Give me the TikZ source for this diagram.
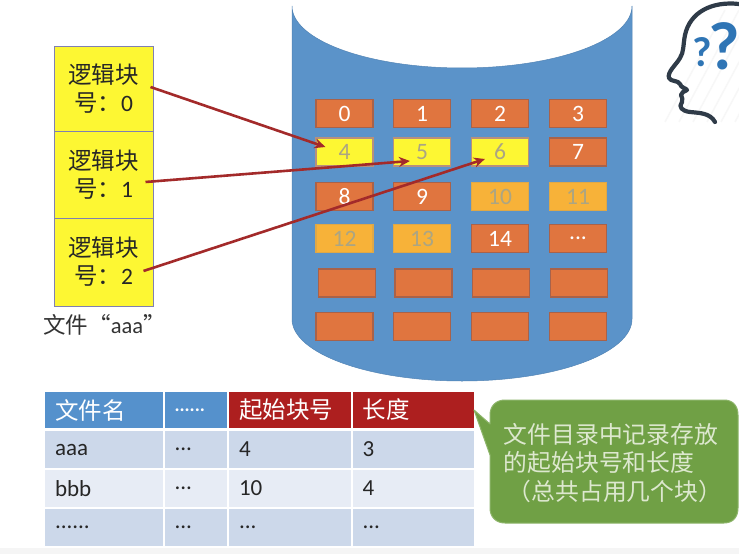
\documentclass[tikz,border=0pt]{standalone}
\usepackage{fontspec}
\setmainfont{Carlito}
\newfontfamily\cjk{Noto Sans CJK SC}
\usetikzlibrary{arrows.meta}
\definecolor{cylblue}{HTML}{5B93C9}
\definecolor{blkorange}{HTML}{E0753F}
\definecolor{blkedge}{HTML}{A8624A}
\definecolor{blkyellow}{HTML}{FDF733}
\definecolor{blkgold}{HTML}{F7B239}
\definecolor{arrowred}{HTML}{A32A2A}
\definecolor{headblue}{HTML}{5591CC}
\definecolor{headred}{HTML}{AD1F1F}
\definecolor{rowa}{HTML}{CCD8EA}
\definecolor{rowb}{HTML}{E7ECF5}
\definecolor{calloutgreen}{HTML}{70A045}
\definecolor{calloutedge}{HTML}{8DB56A}
\definecolor{calloutfg}{HTML}{DDE8CF}
\definecolor{headink}{HTML}{2F3B48}
\definecolor{qblue}{HTML}{2F75B5}
\definecolor{fadetext}{HTML}{ABA583}
\newcommand{\fsz}[1]{\fontsize{#1}{#1}\selectfont}
\newcommand{\tdots}{.{}.{}.}
\tikzset{
  blk/.style={draw=blkedge,line width=1.2pt,minimum width=57pt,minimum height=28pt,inner sep=0pt,text=white,font=\fsz{23.5}},
  orangeblk/.style={blk,fill=blkorange},
  yellowblk/.style={blk,fill=blkyellow,text=fadetext,draw=blkorange!60!black!60},
  goldblk/.style={blk,fill=blkgold,text=fadetext,draw=blkgold!80!gray},
  logic/.style={draw=blue!25!gray!80,line width=1pt,fill=blkyellow,minimum width=99pt,inner sep=0pt,align=center,text=black!85,font=\cjk\fontsize{23.5}{28}\selectfont},
  link/.style={draw=arrowred,line width=2.6pt,-{Stealth[length=11pt,width=10pt]}},
  cell/.style={draw=none,inner xsep=10pt,inner ysep=0pt,align=left,text=black!85,font=\fsz{23}},
}
\newcommand{\tcell}[7]{%
  \pgfmathsetmacro{\cx}{(#2+#3)/2}\pgfmathsetmacro{\cy}{(#4+#5)/2}%
  \pgfmathsetmacro{\cw}{#3-#2}\pgfmathsetmacro{\ch}{#5-#4}\pgfmathsetmacro{\tw}{#3-#2-20}%
  \node[cell,fill=#6,minimum width=\cw pt,minimum height=\ch pt,text width=\tw pt] (#1) at (\cx,\cy) {#7};}
\begin{document}
\begin{tikzpicture}[x=1pt,y=-1pt]
\useasboundingbox (0,0) rectangle (739,554);
\fill[white] (0,0) rectangle (739,554);
\fill[black!4] (0,548) rectangle (739,554);
% cylinder
\fill[cylblue,draw=cylblue!90!black,line width=.5pt] (292,6) .. controls (292,40.2) and (368.1,68) .. (462,68)
  .. controls (555.9,68) and (632,40.2) .. (632,6) -- (632,319)
  .. controls (632,353.2) and (555.9,381) .. (462,381)
  .. controls (368.1,381) and (292,353.2) .. (292,319) -- cycle;
% blocks
\foreach \nm/\x/\y/\sty/\txt in {
  0/344.5/113.5/orangeblk/0,1/422/113.5/orangeblk/1,2/500/113.5/orangeblk/2,3/578/113.5/orangeblk/3,
  4/344.5/152/yellowblk/4,5/422/152/yellowblk/5,6/500/152/yellowblk/6,7/578/152/orangeblk/7,
  8/344.5/196.5/orangeblk/8,9/422/196.5/orangeblk/9,10/500/196.5/goldblk/10,11/578/196.5/goldblk/11,
  12/344.5/238.5/goldblk/12,13/422/238.5/goldblk/13,14/500/238.5/orangeblk/14,15/578/238.5/orangeblk/\tdots,
  16/347/283/orangeblk/{},17/423.5/283/orangeblk/{},18/501/283/orangeblk/{},19/579/283/orangeblk/{},
  20/344.5/326.5/orangeblk/{},21/422/326.5/orangeblk/{},22/500/326.5/orangeblk/{},23/578/326.5/orangeblk/{}}
  {\node[\sty] (b\nm) at (\x,\y) {\txt};}
% logical blocks
\node[logic,minimum height=85pt] (l0) at (103.5,88.5) {逻辑块\\号：{\rmfamily 0}};
\node[logic,minimum height=87pt] (l1) at (103.5,174.5) {逻辑块\\号：{\rmfamily 1}};
\node[logic,minimum height=88pt] (l2) at (103.5,262) {逻辑块\\号：{\rmfamily 2}};
\node[font=\fsz{22.5},text=black!80,inner sep=0pt] (fname) at (104.5,325) {{\cjk 文件“}aaa{\cjk ”}};
% connectors
\draw[link] ([xshift=-3pt,yshift=1.5pt]l0.east) -- ([xshift=10pt,yshift=5pt]b4.west);
\draw[link] ([xshift=-8pt,yshift=-7.5pt]l1.east) -- ([xshift=17pt,yshift=-9pt]b5.west);
\draw[link] ([xshift=-10pt,yshift=-9pt]l2.east) -- ([xshift=14pt,yshift=-7pt]b6.west);
% thinking head
\foreach \i in {0,...,7}
  \draw[black!3,line width=1.5pt] ({665+\i*14},{122}) -- ({725+\i*14},{10});
\draw[headink,line width=4.2pt,line cap=round,line join=round]
  (739,4) .. controls (712,1) and (690,12) .. (685,35)
  .. controls (683,45) and (684,52) .. (680,58)
  .. controls (676,65) and (667,72) .. (669,78)
  .. controls (671,82) and (678,80) .. (680,84)
  .. controls (681,88) and (686,88) .. (687,90)
  .. controls (684,92) and (681,92) .. (681,95)
  .. controls (681,98) and (684,99) .. (682,102)
  .. controls (678,107) and (682,111) .. (690,112)
  .. controls (700,113) and (710,113) .. (715,122);
\node[text=qblue,font=\bfseries\fsz{68},inner sep=0pt] (q1) at (724,46) {?};
\node[text=qblue,font=\bfseries\fsz{42},inner sep=0pt] (q2) at (702,52) {?};
% table
\tcell{h1}{45}{162.5}{392}{428}{headblue}{{\cjk\fsz{23.5}\color{white}文件名}}
\tcell{h2}{164.5}{227}{392}{428}{headblue}{{\color{white}\bfseries\fsz{19}......}}
\tcell{h3}{229}{350.5}{392}{428}{headred}{{\cjk\fsz{23.5}\color{white}起始块号}}
\tcell{h4}{352.5}{474}{392}{428}{headred}{{\cjk\fsz{23.5}\color{white}长度}}
\tcell{a1}{45}{162.5}{431}{468}{rowa}{aaa}
\tcell{a2}{164.5}{227}{431}{468}{rowa}{...}
\tcell{a3}{229}{350.5}{431}{468}{rowa}{4}
\tcell{a4}{352.5}{474}{431}{468}{rowa}{3}
\tcell{c1}{45}{162.5}{469.5}{507}{rowb}{bbb}
\tcell{c2}{164.5}{227}{469.5}{507}{rowb}{...}
\tcell{c3}{229}{350.5}{469.5}{507}{rowb}{10}
\tcell{c4}{352.5}{474}{469.5}{507}{rowb}{4}
\tcell{d1}{45}{162.5}{508.5}{546}{rowa}{......}
\tcell{d2}{164.5}{227}{508.5}{546}{rowa}{...}
\tcell{d3}{229}{350.5}{508.5}{546}{rowa}{...}
\tcell{d4}{352.5}{474}{508.5}{546}{rowa}{...}
% callout
\draw[fill=calloutgreen,draw=calloutedge,line width=1pt,line join=round]
  (474,410) -- (490,424) -- (490,415)
  .. controls (490,406) and (496,400) .. (505,400)
  -- (724,400) .. controls (733,400) and (738,406) .. (738,415)
  -- (738,508) .. controls (738,517) and (733,523) .. (724,523)
  -- (505,523) .. controls (496,523) and (490,517) .. (490,508)
  -- (490,455) -- cycle;
\node[text=calloutfg,font=\cjk\fontsize{23.8}{28.5}\selectfont,align=left,inner sep=0pt] (note) at (613,463)
  {文件目录中记录存放\\的起始块号和长度\\\hspace*{4pt}（总共占用几个块）};
\end{tikzpicture}
\end{document}
